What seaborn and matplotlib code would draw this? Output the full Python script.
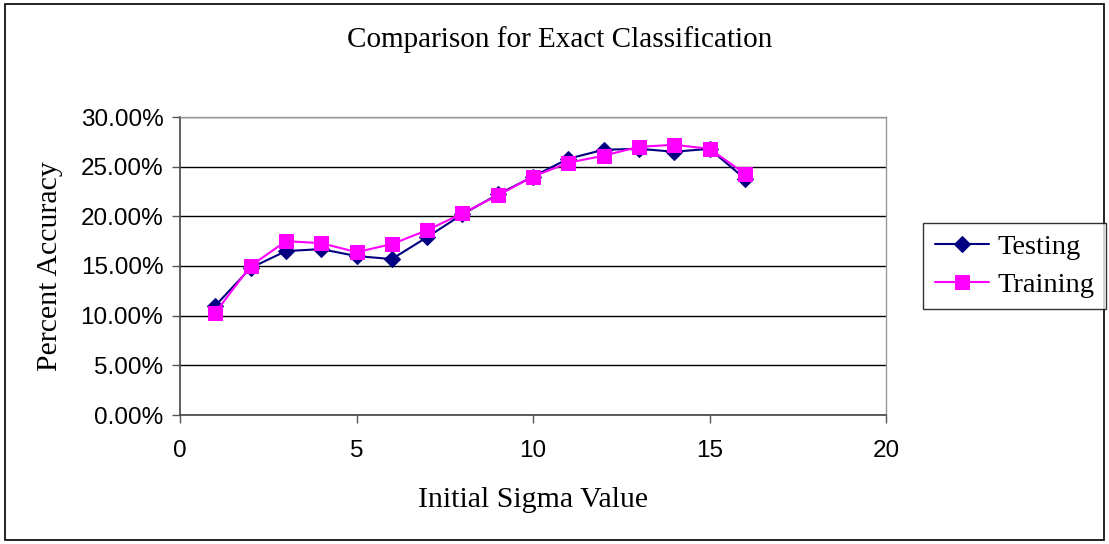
import matplotlib
matplotlib.use("Agg")
import matplotlib.pyplot as plt
import seaborn as sns
import pandas as pd
from matplotlib.ticker import PercentFormatter
from matplotlib.patches import Rectangle

sigma = [1, 2, 3, 4, 5, 6, 7, 8, 9, 10, 11, 12, 13, 14, 15, 16]
testing = [11.0, 14.8, 16.5, 16.7, 16.0, 15.7, 17.9, 20.2, 22.2, 24.0, 25.8, 26.7, 26.8, 26.5, 26.8, 23.8]
training = [10.3, 15.0, 17.5, 17.3, 16.4, 17.2, 18.6, 20.3, 22.1, 24.0, 25.4, 26.1, 27.0, 27.2, 26.8, 24.3]
series_names = ["Testing", "Training"]
x_ticks = [0, 5, 10, 15, 20]
y_ticks = [0, 5, 10, 15, 20, 25, 30]

df = pd.DataFrame({
    "sigma": sigma * 2,
    "acc": testing + training,
    "series": [series_names[0]] * len(sigma) + [series_names[1]] * len(sigma),
})

sns.set_theme(style="white")
plt.rcParams["font.family"] = ["Liberation Sans", "DejaVu Sans"]
plt.rcParams["text.color"] = "black"
plt.rcParams["axes.labelcolor"] = "black"

fig = plt.figure(figsize=(11.09, 5.44), dpi=100)
ax = fig.add_axes([180 / 1109, 1 - 415 / 544, (886 - 180) / 1109, (415 - 117) / 544])

palette = {"Testing": "#000080", "Training": "#FF00FF"}
markers = {"Testing": "D", "Training": "s"}
sizes_m = {"Testing": 8.5, "Training": 10.5}

for name in series_names:
    sub = df[df["series"] == name]
    sns.lineplot(data=sub, x="sigma", y="acc", ax=ax, color=palette[name],
                 marker=markers[name], markersize=sizes_m[name],
                 markeredgecolor=palette[name], linewidth=1.5, label=name,
                 legend=False)

ax.set_xlim(0, 20)
ax.set_ylim(0, 30)
ax.set_xticks(x_ticks)
ax.set_yticks(y_ticks)
ax.yaxis.set_major_formatter(PercentFormatter(decimals=2))
ax.grid(axis="y", color="black", linewidth=1.0)
ax.grid(axis="x", visible=False)
ax.tick_params(axis="both", which="major", direction="out", length=6, width=1,
               color="#555555", labelsize=17.5, labelcolor="black", left=True, bottom=True)
ax.tick_params(axis="x", pad=12)
ax.tick_params(axis="y", pad=6)
for side in ["left", "bottom"]:
    ax.spines[side].set_color("#444444")
    ax.spines[side].set_linewidth(1.2)
for side in ["top", "right"]:
    ax.spines[side].set_color("#999999")
    ax.spines[side].set_linewidth(1.0)
ax.set_axisbelow(True)

serif = ["Liberation Serif", "DejaVu Serif"]
ax.set_xlabel("Initial Sigma Value", family=serif, fontsize=21.5, va="center", color="black")
ax.set_ylabel("Percent Accuracy", family=serif, fontsize=21.5, va="center", color="black")
ax.xaxis.set_label_coords((533 - 180) / 706, (415 - 500) / 298)
ax.yaxis.set_label_coords((50 - 180) / 706, (415 - 266) / 298)
fig.text(560 / 1109, 1 - 40 / 544, "Comparison for Exact Classification",
         family=serif, fontsize=21, ha="center", va="center", color="black")

handles, labels = ax.get_legend_handles_labels()
leg = fig.legend(handles, labels, loc="center",
                 bbox_to_anchor=((924 + 1105) / 2 / 1109, 1 - 266 / 544),
                 prop={"family": serif, "size": 20.5}, frameon=True, fancybox=False,
                 edgecolor="black", handlelength=1.9, handletextpad=0.3,
                 borderpad=0.4, labelspacing=0.4, borderaxespad=0, labelcolor="black")
leg.get_frame().set_linewidth(1.0)

fig.patches.append(Rectangle((5 / 1109, 4 / 544), 1 - 10 / 1109, 1 - 8 / 544,
                             transform=fig.transFigure, fill=False,
                             edgecolor="black", linewidth=1.2))

fig.savefig("out.png", dpi=100)
